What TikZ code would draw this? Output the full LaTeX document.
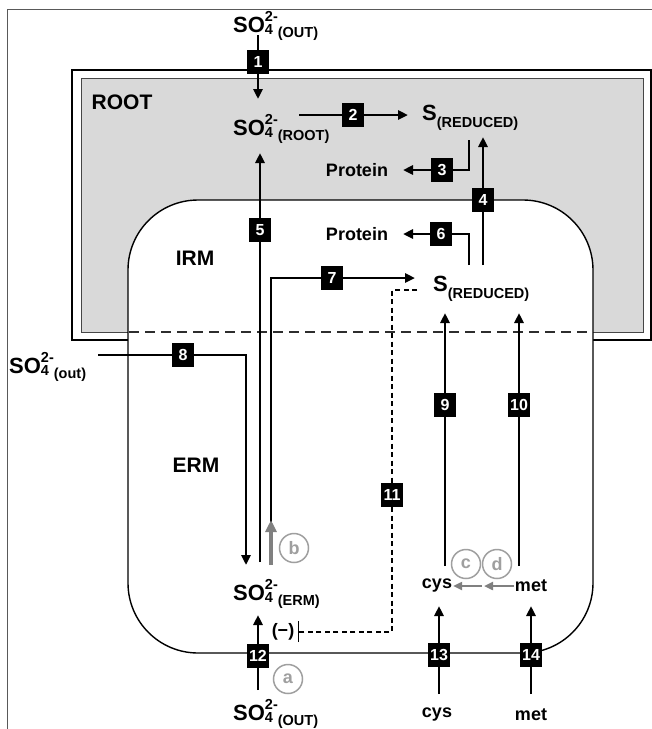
\documentclass[tikz,border=0pt]{standalone}
\usepackage{fontspec}
\setmainfont{Liberation Sans}
\usetikzlibrary{arrows.meta,positioning}

\newcommand{\bigsz}{\fontsize{22}{24}\selectfont}
\newcommand{\midsz}{\fontsize{18}{20}\selectfont}
\newcommand{\smsz}{\fontsize{14.5}{16}\selectfont}
\newcommand{\sulfate}[1]{SO\rlap{\smsz\raisebox{-0.2em}{4}}{\smsz\raisebox{0.7em}{2-}\raisebox{-0.35em}{(#1)}}}
\newcommand{\sred}{S{\smsz\raisebox{-0.55em}{(REDUCED)}}}

\begin{document}
\begin{tikzpicture}[x=1pt, y=-1pt,
  flow/.style={line width=2.6pt, -{Triangle[length=10pt,width=9pt]}},
  gflow/.style={line width=2.6pt, draw=gray, -{Triangle[length=9pt,width=8pt]}},
  gbig/.style={line width=3.8pt, draw=gray, -{Triangle[length=12pt,width=11pt]}},
  inhib/.style={line width=1.6pt, dash pattern=on 5pt off 3.5pt},
  numbox/.style={fill=black, text=white, font=\bfseries\fontsize{16}{18}\selectfont,
                 minimum width=22pt, minimum height=24pt, inner sep=1pt},
  species/.style={font=\bfseries\bigsz, inner sep=0pt, anchor=base west},
  small/.style={font=\bfseries\midsz, inner sep=1pt},
  region/.style={font=\bfseries\fontsize{21}{24}\selectfont, inner sep=0pt},
  tag/.style={circle, draw=gray!75, line width=1.5pt, text=gray!75,
              font=\bfseries\fontsize{18}{20}\selectfont, minimum size=29pt, inner sep=0pt}
]
\useasboundingbox (0,0) rectangle (652,729);

% Frame
\draw[gray!70!black, line width=1pt] (7,729) -- (7,9) -- (652,9);

% Root compartment
\draw[line width=2pt] (72,70) rectangle (650.5,340);
\draw[draw=gray!55!black, line width=1pt, fill=black!15] (81,78) rectangle (643,332);

% Fungal mycelium (IRM / ERM)
\draw[line width=1.4pt, fill=white, rounded corners=70pt] (128,200) rectangle (593,653);
\draw[gray!35!black, line width=1.6pt, dash pattern=on 10pt off 6pt] (129,332) -- (592,332);

% Region labels
\node[region] (root) at (122,102) {ROOT};
\node[region] (irm)  at (195,258) {IRM};
\node[region] (erm)  at (196,465) {ERM};

% Pools
\node[species] (so4top)  at (233,32)  {\sulfate{OUT}};
\node[species] (so4root) at (233,135) {\sulfate{ROOT}};
\node[species] (so4erm)  at (233,600) {\sulfate{ERM}};
\node[species] (so4bot)  at (233,720) {\sulfate{OUT}};
\node[species] (so4left) at (9,373)   {\sulfate{out}};
\node[species] (sroot)   at (422,120) {\sred};
\node[species] (sirm)    at (433,291) {\sred};
\node[small] (protroot) at (357,170) {Protein};
\node[small] (protirm)  at (357,234) {Protein};
\node[small] (cysin)  at (437,586) {cys};
\node[small] (metin)  at (531,586) {met};
\node[small] (cysout) at (437,715) {cys};
\node[small] (metout) at (531,715) {met};

% Numbered steps
\foreach \n/\x/\y in {1/258/62, 2/353/115, 3/442/170, 4/483/200, 5/260/230,
                      6/441/234, 7/332/278, 8/183/355, 9/445/405, 10/519/405,
                      11/392/495, 12/258/656, 13/439/655, 14/531/655}
  \node[numbox] (n\n) at (\x,\y) {\n};

% Straight vertical fluxes
\foreach \n/\x/\ya/\yb in {1/258/35/99, 4/483/265/137, 5/260/562/153,
                           9/445/566/313, 10/519/566/313, 12/258/690/615,
                           13/439/694/606, 14/531/694/606}{
  \coordinate (from\n) at (\x,\ya);
  \coordinate (to\n) at (\x,\yb);
  \draw[flow] (from\n) -- (n\n) -- (to\n);
}

% Bent fluxes
\coordinate (from2) at (299,115);
\coordinate (to2)   at (408,115);
\draw[flow] (from2) -- (n2) -- (to2);
\coordinate (from3) at (469,140);
\coordinate (to3)   at (403,170);
\draw[flow] (from3) |- (n3) -- (to3);
\coordinate (from6) at (469,265);
\coordinate (to6)   at (403,234);
\draw[flow] (from6) |- (n6) -- (to6);
\coordinate (from7) at (271,525);
\coordinate (to7)   at (415,278);
\draw[flow] (from7) |- (n7) -- (to7);
\coordinate (from8) at (98,355);
\coordinate (to8)   at (246,565);
\draw[flow] (from8) -- (n8) -| (to8);

% Feedback inhibition
\coordinate (from11) at (417,290);
\coordinate (to11)   at (298,632);
\draw[inhib] (from11) -| (n11) |- (to11);
\draw[line width=1pt] ([yshift=-10pt]to11) -- ([yshift=11pt]to11);
\node[small] (minus) at (283,632) {(−)};

% Gray steps
\coordinate (fromb) at (271,565);
\coordinate (tob)   at (271,520);
\draw[gbig] (fromb) -- (tob);
\coordinate (gd) at (484,586);
\coordinate (gc) at (482,586);
\draw[gflow] (metin.west) -- (gd);
\draw[gflow] (gc) -- (cysin.east);
\node[tag] (ta) at (288,679) {a};
\node[tag] (tb) at (294,548) {b};
\node[tag] (tc) at (466,564) {c};
\node[tag] (td) at (497,564) {d};

\end{tikzpicture}
\end{document}
